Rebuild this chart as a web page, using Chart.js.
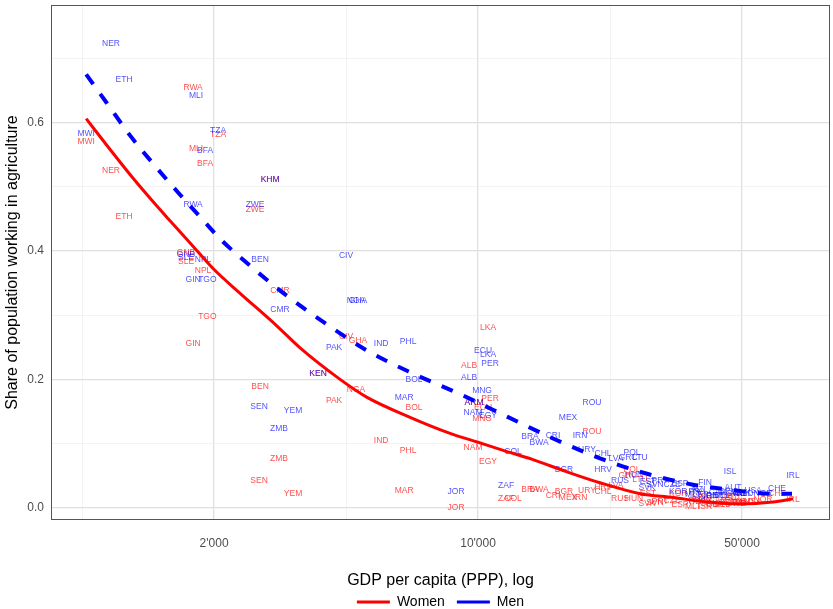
<!DOCTYPE html>
<html>
<head>
<meta charset="utf-8">
<script src="https://cdn.jsdelivr.net/npm/chart.js@4.4.0/dist/chart.umd.min.js"></script>
<style>
  html, body { margin: 0; padding: 0; background: #fff; }
  #wrap { width: 833px; height: 609px; }
</style>
</head>
<body>
<div id="wrap"><canvas id="chart" width="833" height="609"></canvas></div>
<script>
// country codes, GDP per capita (PPP) and share working in agriculture
const countries = ['MWI','NER','ETH','RWA','MLI','TZA','BFA','KHM','ZWE','GNB','SLE','NPL','GIN','TGO','BEN','CMR','CIV','GHA','NGA','SEN','YEM','ZMB','KEN','PAK','IND','PHL','MAR','BOL','JOR','LKA','ECU','PER','ALB','MNG','ARM','NAM','EGY','COL','ZAF','BRA','BWA','CRI','MEX','IRN','BGR','URY','ROU','CHL','HRV','RUS','LVA','POL','GRC','LTU','HUN','EST','SVN','SVK','PRT','CZE','ESP','KOR','ITA','FRA','MLT','ISR','FIN','NZL','JPN','GBR','CAN','BEL','ISL','DEU','AUT','AUS','SWE','DNK','NLD','USA','NOR','CHE','IRL'];
const gdp = [917,1067,1155,1760,1792,2049,1893,2814,2568,1686,1686,1870,1760,1920,2648,2990,4472,4812,4754,2632,3237,2972,3771,4157,5537,6529,6371,6770,8744,10630,10311,10760,9467,10247,9759,9699,10630,12380,11865,13729,14504,15798,17310,18621,16894,19434,20035,21429,21429,23765,23190,25571,24954,26848,25880,28190,29420,28022,30330,32640,34260,33900,37550,38010,37100,39900,39900,38700,41150,42420,43100,44260,46480,45930,47330,48800,48300,50000,50930,53460,56820,61900,68240];
const womenShare = [0.570,0.525,0.453,0.655,0.559,0.581,0.536,0.511,0.464,0.398,0.384,0.370,0.255,0.297,0.189,0.338,0.267,0.261,0.184,0.042,0.022,0.077,0.209,0.167,0.105,0.089,0.027,0.156,0.000,0.281,0.156,0.170,0.222,0.139,0.164,0.094,0.072,0.014,0.014,0.028,0.028,0.019,0.016,0.016,0.025,0.027,0.119,0.025,0.031,0.014,0.034,0.059,0.050,0.044,0.014,0.022,0.008,0.006,0.009,0.011,0.005,0.022,0.009,0.011,0.002,0.002,0.012,0.016,0.006,0.005,0.011,0.005,0.016,0.008,0.016,0.009,0.006,0.008,0.009,0.009,0.012,0.022,0.012];
const menShare = [0.583,0.723,0.666,0.472,0.642,0.588,0.556,0.511,0.472,0.394,0.389,0.386,0.355,0.355,0.386,0.309,0.392,0.322,0.322,0.158,0.152,0.123,0.209,0.250,0.255,0.258,0.172,0.200,0.025,0.239,0.245,0.225,0.202,0.183,0.164,0.148,0.144,0.088,0.034,0.111,0.102,0.113,0.141,0.113,0.059,0.091,0.164,0.084,0.059,0.042,0.077,0.086,0.078,0.078,0.052,0.041,0.036,0.031,0.042,0.036,0.038,0.025,0.023,0.025,0.020,0.017,0.039,0.028,0.019,0.019,0.023,0.019,0.056,0.025,0.031,0.022,0.022,0.023,0.022,0.027,0.022,0.030,0.050];

// smoothed fits
const womenCurveGdp = [917,1061,1198,1354,1529,1728,2000,2344,2936,3379,4312,5083,6607,8433,10000,11437,13982,17203,21038,26848,32842,40406,49393,60404,68240];
const womenCurve = [0.606,0.558,0.519,0.482,0.447,0.4125,0.371,0.334,0.283,0.249,0.200,0.172,0.141,0.116,0.102,0.091,0.075,0.056,0.039,0.022,0.016,0.009,0.006,0.009,0.014];
const menCurveGdp = [917,1041,1198,1379,1606,1837,2074,2491,3121,3935,5114,6729,8962,11936,15798,21038,28022,37101,43723,51548,59317,67825];
const menCurve = [0.675,0.630,0.580,0.536,0.491,0.453,0.419,0.377,0.330,0.2875,0.244,0.209,0.177,0.142,0.108,0.077,0.053,0.036,0.030,0.025,0.022,0.022];

// axis breaks (major + minor)
const xTicks = [894, 2000, 4472, 10000, 22361, 50000];
const xMajor = [2000, 10000, 50000];
const yTicks = [0, 0.1, 0.2, 0.3, 0.4, 0.5, 0.6, 0.7];
const yMajor = [0, 0.2, 0.4, 0.6];

const FONT = "'Liberation Sans', Arial, sans-serif";
const isMajorX = v => xMajor.includes(v);
const isMajorY = v => yMajor.some(m => Math.abs(m - v) < 1e-9);
const fmtThousands = v => String(v).replace(/\B(?=(\d{3})+(?!\d))/g, "'");

const toPoints = (xs, ys) => xs.map((x, i) => ({ x: x, y: ys[i] }));

// draws the country codes at the scatter points, under the fitted lines
const countryLabels = {
  id: 'countryLabels',
  beforeDatasetsDraw(chart) {
    const ctx = chart.ctx;
    const area = chart.chartArea;
    ctx.save();
    ctx.beginPath();
    ctx.rect(area.left, area.top, area.right - area.left, area.bottom - area.top);
    ctx.clip();
    ctx.font = '8.5px ' + FONT;
    ctx.textAlign = 'center';
    ctx.textBaseline = 'middle';
    chart.data.datasets.forEach((ds, i) => {
      if (!ds.codes) return;
      ctx.fillStyle = ds.labelColor;
      chart.getDatasetMeta(i).data.forEach((pt, j) => {
        ctx.fillText(ds.codes[j], pt.x, pt.y);
      });
    });
    ctx.restore();
  }
};

const panelBorder = {
  id: 'panelBorder',
  afterDatasetsDraw(chart) {
    const { ctx, chartArea: a } = chart;
    ctx.save();
    ctx.strokeStyle = '#555555';
    ctx.lineWidth = 1;
    ctx.strokeRect(Math.round(a.left) + 0.5, Math.round(a.top) + 0.5,
      Math.round(a.right - a.left) - 1, Math.round(a.bottom - a.top) - 1);
    ctx.restore();
  }
};

new Chart(document.getElementById('chart'), {
  type: 'scatter',
  data: {
    datasets: [
      {
        label: 'Women labels',
        data: toPoints(gdp, womenShare),
        codes: countries,
        labelColor: 'rgba(255,0,0,0.7)',
        pointRadius: 0,
        showLine: false
      },
      {
        label: 'Men labels',
        data: toPoints(gdp, menShare),
        codes: countries,
        labelColor: 'rgba(0,0,255,0.7)',
        pointRadius: 0,
        showLine: false
      },
      {
        label: 'Women',
        data: toPoints(womenCurveGdp, womenCurve),
        showLine: true,
        borderColor: '#ff0000',
        backgroundColor: '#ff0000',
        borderWidth: 3,
        pointRadius: 0,
        cubicInterpolationMode: 'monotone'
      },
      {
        label: 'Men',
        data: toPoints(menCurveGdp, menCurve),
        showLine: true,
        borderColor: '#0000ff',
        backgroundColor: '#0000ff',
        borderWidth: 4,
        borderDash: [12, 12],
        borderCapStyle: 'butt',
        pointRadius: 0,
        cubicInterpolationMode: 'monotone'
      }
    ]
  },
  options: {
    responsive: false,
    animation: false,
    devicePixelRatio: 1,
    events: [],
    layout: { padding: { top: 5, right: 3, left: 0, bottom: -10 } },
    scales: {
      x: {
        type: 'logarithmic',
        min: 740,
        max: 85500,
        afterBuildTicks: s => { s.ticks = xTicks.map(v => ({ value: v })); },
        afterFit: s => { s.height = 63; s.paddingLeft = 0; s.paddingRight = 0; },
        border: { display: false },
        grid: {
          drawTicks: false,
          color: c => isMajorX(c.tick.value) ? '#e0e0e0' : '#eeeeee',
          lineWidth: c => isMajorX(c.tick.value) ? 1.3 : 0.7
        },
        ticks: {
          autoSkip: false,
          maxRotation: 0,
          padding: 16,
          color: '#4d4d4d',
          font: { family: FONT, size: 12 },
          callback: v => isMajorX(v) ? fmtThousands(v) : ''
        },
        title: {
          display: true,
          text: 'GDP per capita (PPP), log',
          color: '#000',
          font: { family: FONT, size: 16 },
          padding: { top: 0, bottom: -7 }
        }
      },
      y: {
        min: -0.019,
        max: 0.783,
        afterBuildTicks: s => { s.ticks = yTicks.map(v => ({ value: v })); },
        afterFit: s => { s.width = 51; s.paddingTop = 0; s.paddingBottom = 0; },
        border: { display: false },
        grid: {
          drawTicks: false,
          color: c => isMajorY(c.tick.value) ? '#e0e0e0' : '#eeeeee',
          lineWidth: c => isMajorY(c.tick.value) ? 1.3 : 0.7
        },
        ticks: {
          padding: 7,
          color: '#4d4d4d',
          font: { family: FONT, size: 12 },
          callback: v => isMajorY(v) ? v.toFixed(1) : ''
        },
        title: {
          display: true,
          text: 'Share of population working in agriculture',
          color: '#000',
          font: { family: FONT, size: 16 },
          padding: { top: 3, bottom: 0 }
        }
      }
    },
    plugins: {
      tooltip: { enabled: false },
      legend: {
        position: 'bottom',
        fullSize: false,
        labels: {
          boxWidth: 33,
          boxHeight: 3,
          padding: 12,
          color: '#000',
          font: { family: FONT, size: 14 },
          generateLabels: chart => chart.data.datasets
            .map((ds, i) => ({
              text: ds.label,
              fillStyle: ds.borderColor,
              strokeStyle: ds.borderColor,
              lineWidth: 0,
              hidden: false,
              datasetIndex: i,
              fontColor: '#000'
            }))
            .filter(item => chart.data.datasets[item.datasetIndex].showLine)
        }
      }
    }
  },
  plugins: [countryLabels, panelBorder]
});
</script>
</body>
</html>
